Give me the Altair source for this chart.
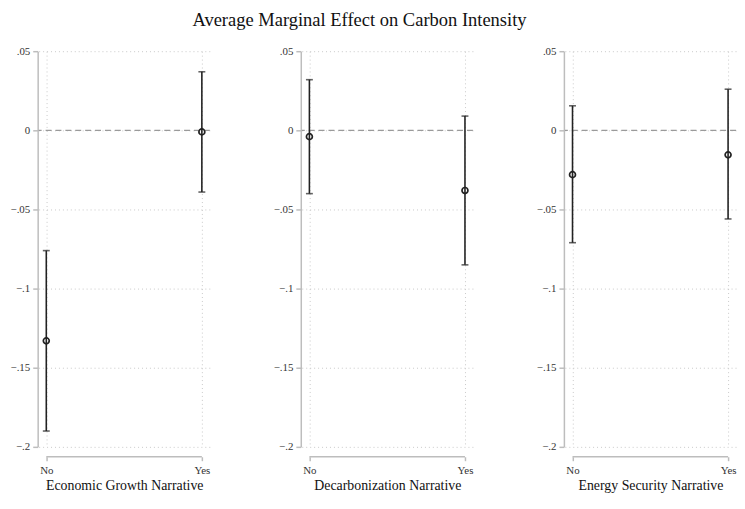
import altair as alt
import pandas as pd

chart_title = "Average Marginal Effect on Carbon Intensity"
panel_titles = ["Economic Growth Narrative", "Decarbonization Narrative", "Energy Security Narrative"]
levels = ["No", "Yes"]
xpos = [0, 1]
estimates = [[-0.133, -0.001], [-0.004, -0.038], [-0.028, -0.0155]]
lower = [[-0.190, -0.039], [-0.040, -0.085], [-0.071, -0.056]]
upper = [[-0.076, 0.037], [0.032, 0.009], [0.0155, 0.026]]
y_ticks = [0.05, 0, -0.05, -0.1, -0.15, -0.2]
ref_line = [0]

W, H = 173, 400
FONT = "Liberation Serif"
INK = "#222222"
AXIS_GRAY = "#bdbdbd"


def panel(i):
    df = pd.DataFrame({"x": xpos, "level": levels, "est": estimates[i],
                       "lo": lower[i], "hi": upper[i]})
    xs = alt.Scale(domain=[-0.049, 1.051], nice=False, zero=False)
    ys = alt.Scale(domain=[-0.2, 0.05], nice=False, zero=False)
    common = dict(labelFont=FONT, titleFont=FONT, labelFontSize=11, titleFontSize=14,
                  labelColor="#333333", titleColor="#111111", titleFontWeight="normal",
                  grid=True, gridDash=[1, 3], gridColor="#c8c8c8",
                  domainColor=AXIS_GRAY, domainWidth=1.5, tickColor=AXIS_GRAY, tickWidth=1.5)
    xaxis = alt.Axis(values=xpos, labelExpr="datum.value == 0 ? 'No' : 'Yes'",
                     title=panel_titles[i], domain=False, offset=10, tickSize=4,
                     labelPadding=4, titlePadding=3, **common)
    yaxis = alt.Axis(values=y_ticks, title="", offset=1, tickSize=5, labelPadding=3,
                     labelExpr="replace(format(datum.value, '.2~f'), '0.', '.')",
                     **common)

    X = lambda f: alt.X(f, scale=xs, axis=xaxis)
    Y = lambda f: alt.Y(f, scale=ys, axis=yaxis)

    zero = alt.Chart(pd.DataFrame({"y": ref_line})).mark_rule(
        color="#9a9a9a", strokeDash=[6, 4], strokeWidth=1.3
    ).encode(y=Y("y:Q"))
    xline = alt.Chart(pd.DataFrame({"x": [xpos[0]], "x2": [xpos[1]]})).mark_rule(
        color=AXIS_GRAY, strokeWidth=1.5
    ).encode(x=X("x:Q"), x2="x2:Q", y=alt.value(H + 10))
    bars = alt.Chart(df).mark_errorbar(
        ticks={"size": 7, "thickness": 1.6, "color": INK},
        color=INK, thickness=1.6,
    ).encode(x=X("x:Q"), y=Y("lo:Q"), y2="hi:Q")
    pts = alt.Chart(df).mark_point(
        shape="circle", size=36, filled=False, stroke=INK, strokeWidth=1.7, opacity=1
    ).encode(x=X("x:Q"), y=Y("est:Q"))
    return alt.layer(zero, xline, bars, pts).properties(width=W, height=H)


chart = alt.hconcat(*[panel(i) for i in range(3)], spacing=63).properties(
    title=alt.TitleParams(chart_title, font=FONT, fontSize=18.7, fontWeight="normal",
                          color="#111111", anchor="middle", offset=16, dx=-14),
    padding={"left": 2, "top": 0, "right": 0, "bottom": 0},
).configure_view(stroke=None)

chart.save("out.html", embed_options={"renderer": "svg", "actions": False})
